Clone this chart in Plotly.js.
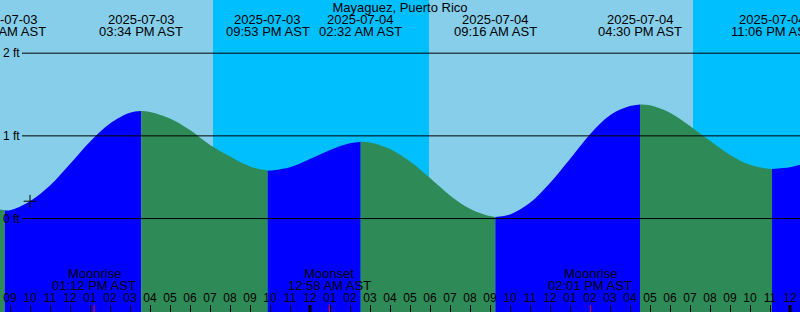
<!DOCTYPE html>
<html><head><meta charset="utf-8">
<script src="https://cdn.plot.ly/plotly-3.0.1.min.js"></script>
<style>html,body{margin:0;padding:0;background:#fff}#chart{width:800px;height:312px}</style>
</head><body><div id="chart"></div>
<script>
const stationTitle = 'Mayaguez, Puerto Rico';

// tide curve (feet), hourly plus the high/low turning points
const curveTimes = [
  '2025-07-03 08:30','2025-07-03 08:44','2025-07-03 09:00','2025-07-03 10:00','2025-07-03 11:00',
  '2025-07-03 12:00','2025-07-03 13:00','2025-07-03 14:00','2025-07-03 15:00','2025-07-03 15:34',
  '2025-07-03 16:00','2025-07-03 17:00','2025-07-03 18:00','2025-07-03 19:00','2025-07-03 20:00',
  '2025-07-03 21:00','2025-07-03 21:53','2025-07-03 22:00','2025-07-03 23:00','2025-07-04 00:00',
  '2025-07-04 01:00','2025-07-04 02:00','2025-07-04 02:32','2025-07-04 03:00','2025-07-04 04:00',
  '2025-07-04 05:00','2025-07-04 06:00','2025-07-04 07:00','2025-07-04 08:00','2025-07-04 09:00',
  '2025-07-04 09:16','2025-07-04 10:00','2025-07-04 11:00','2025-07-04 12:00','2025-07-04 13:00',
  '2025-07-04 14:00','2025-07-04 15:00','2025-07-04 16:00','2025-07-04 16:30','2025-07-04 17:00',
  '2025-07-04 18:00','2025-07-04 19:00','2025-07-04 20:00','2025-07-04 21:00','2025-07-04 22:00',
  '2025-07-04 23:00','2025-07-04 23:06','2025-07-05 00:00','2025-07-05 00:30'];
const curveHeights = [
  0.11, 0.10, 0.10, 0.21, 0.40,
  0.66, 0.93, 1.15, 1.28, 1.30,
  1.29, 1.21, 1.07, 0.89, 0.75,
  0.63, 0.58, 0.58, 0.62, 0.72,
  0.83, 0.91, 0.93, 0.92, 0.84,
  0.69, 0.49, 0.28, 0.12, 0.03,
  0.02, 0.05, 0.19, 0.43, 0.72,
  1.02, 1.25, 1.36, 1.38, 1.37,
  1.28, 1.12, 0.94, 0.77, 0.65,
  0.60, 0.60, 0.62, 0.65];

// high / low tide events
const eventTimes = ['2025-07-03 08:44','2025-07-03 15:34','2025-07-03 21:53','2025-07-04 02:32',
                    '2025-07-04 09:16','2025-07-04 16:30','2025-07-04 23:06'];
const eventDates = ['2025-07-03','2025-07-03','2025-07-03','2025-07-04','2025-07-04','2025-07-04','2025-07-04'];
const eventClock = ['08:44 AM AST','03:34 PM AST','09:53 PM AST','02:32 AM AST','09:16 AM AST','04:30 PM AST','11:06 PM AST'];

// night periods
const nightStarts = ['2025-07-03 19:09','2025-07-04 19:09'];
const nightEnds   = ['2025-07-04 05:57','2025-07-05 05:58'];

// moon events
const moonTimes = ['2025-07-03 13:12','2025-07-04 00:58','2025-07-04 14:01','2025-07-05 01:36'];
const moonKinds = ['Moonrise','Moonset','Moonrise','Moonset'];
const moonClock = ['01:12 PM AST','12:58 AM AST','02:01 PM AST','01:36 AM AST'];

const midnights = ['2025-07-04 00:00','2025-07-05 00:00'];
const footLevels = [0, 1, 2];
const footLabels = ['0 ft','1 ft','2 ft'];
const nowTime = ['2025-07-03 10:00'];
const nowHeight = [0.21];

const xRange = ['2025-07-03 08:30','2025-07-05 00:30'];
const yRange = [-1.13, 2.643];

const FONT = 'Liberation Sans, Arial, sans-serif';
const SKY = '#87CEEB', NIGHT = '#00BFFF', RISE = '#0000FF', FALL = '#2E8B57';
const H = 312;

// build fill segments split at the tide events
const bounds = [xRange[0]].concat(eventTimes, [xRange[1]]);
const traces = [];
for (let s = 0; s < bounds.length - 1; s++) {
  const a = bounds[s], b = bounds[s + 1];
  const xs = [], ys = [];
  curveTimes.forEach((t, i) => { if (t >= a && t <= b) { xs.push(t); ys.push(curveHeights[i]); } });
  if (xs.length < 2) continue;
  const rising = ys[ys.length - 1] > ys[0];
  traces.push({x: xs, y: xs.map(() => yRange[0] - 1), mode: 'lines', line: {width: 0},
               hoverinfo: 'skip', showlegend: false});
  traces.push({x: xs, y: ys, mode: 'lines', line: {width: 0, shape: 'spline', smoothing: 1},
               fill: 'tonexty', fillcolor: rising ? RISE : FALL, hoverinfo: 'skip', showlegend: false});
}
traces.push({x: nowTime, y: nowHeight, mode: 'markers', showlegend: false, hoverinfo: 'skip',
  marker: {symbol: 'cross-thin', size: 9, color: '#000', line: {width: 1, color: '#000'}}});

const shapes = [];
nightStarts.forEach((t, i) => shapes.push({type: 'rect', xref: 'x', yref: 'paper', x0: t, x1: nightEnds[i],
  y0: 0, y1: 1, fillcolor: NIGHT, line: {width: 0}, layer: 'below'}));
footLevels.forEach(v => shapes.push({type: 'line', xref: 'paper', yref: 'y', x0: 22 / 800, x1: 1, y0: v, y1: v,
  line: {color: '#000', width: 1}, layer: 'above'}));
midnights.forEach(t => shapes.push({type: 'line', xref: 'x', yref: 'paper', x0: t, x1: t, y0: 0, y1: 7 / H,
  line: {color: '#000', width: 3}, layer: 'above'}));
moonTimes.forEach(t => shapes.push({type: 'line', xref: 'x', yref: 'paper', x0: t, x1: t, y0: 0, y1: 7 / H,
  line: {color: '#FF0000', width: 1}, layer: 'above'}));

const annotations = [];
const tf = {family: FONT, size: 13, color: '#000'};
eventTimes.forEach((t, i) => {
  annotations.push({x: t, xref: 'x', y: 1 - 19.7 / H, yref: 'paper', text: eventDates[i], showarrow: false,
    xanchor: 'center', yanchor: 'middle', font: tf, axref: 'x', ax: xRange[0]});
  annotations.push({x: t, xref: 'x', y: 1 - 31.3 / H, yref: 'paper', text: eventClock[i], showarrow: false,
    xanchor: 'center', yanchor: 'middle', font: tf, axref: 'x', ax: xRange[0]});
});
moonTimes.forEach((t, i) => {
  annotations.push({x: t, xref: 'x', y: 1 - 273.8 / H, yref: 'paper', text: moonKinds[i], showarrow: false,
    xanchor: 'center', yanchor: 'middle', font: tf, axref: 'x', ax: xRange[0]});
  annotations.push({x: t, xref: 'x', y: 1 - 285.2 / H, yref: 'paper', text: moonClock[i], showarrow: false,
    xanchor: 'center', yanchor: 'middle', font: tf, axref: 'x', ax: xRange[0]});
});
footLevels.forEach((v, i) => annotations.push({x: 0, xref: 'paper', xanchor: 'left', xshift: 1, y: v, yref: 'y',
  yanchor: 'middle', text: footLabels[i], showarrow: false, font: {family: FONT, size: 12, color: '#000'}}));

const layout = {
  width: 800, height: 312, margin: {l: 0, r: 0, t: 0, b: 0, pad: 0},
  paper_bgcolor: SKY, plot_bgcolor: SKY, showlegend: false,
  title: {text: stationTitle, x: 0.5, xanchor: 'center', y: 1 - 7.7 / H, yanchor: 'middle',
          font: {family: FONT, size: 13, color: '#000'}},
  xaxis: {type: 'date', range: xRange, tickmode: 'linear', tick0: '2025-07-03 00:00', dtick: 3600000,
          tickformat: '%I', ticks: 'inside', ticklen: 7, tickwidth: 1, tickcolor: '#000',
          ticklabelposition: 'inside', showgrid: false, zeroline: false, showline: false,
          tickfont: {family: FONT, size: 12, color: '#000'}, fixedrange: true},
  yaxis: {range: yRange, showgrid: false, zeroline: false, showticklabels: false, ticks: '', showline: false,
          fixedrange: true},
  shapes: shapes, annotations: annotations, hovermode: false
};
Plotly.newPlot('chart', traces, layout, {displayModeBar: false, staticPlot: true});
</script></body></html>
